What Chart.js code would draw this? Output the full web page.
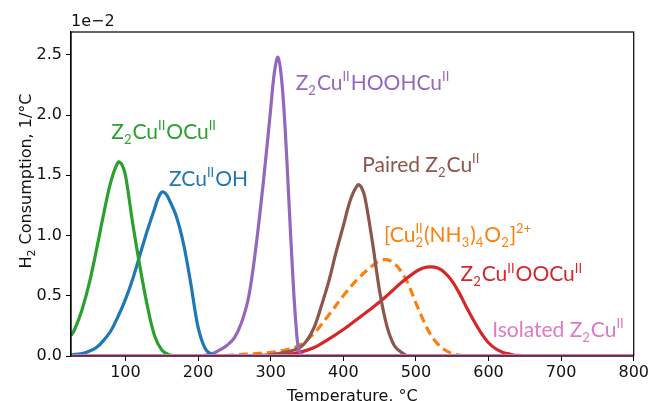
<!DOCTYPE html>
<html>
<head>
<meta charset="utf-8">
<script src="https://cdn.jsdelivr.net/npm/chart.js@4"></script>
<style>
  html, body { margin: 0; padding: 0; background: #fff; }
  #wrap { width: 651px; height: 401px; }
</style>
</head>
<body>
<div id="wrap"><canvas id="tprChart"></canvas></div>
<script>
// H2-TPR deconvolution, values in units of 1e-2 per °C (axis offset "1e−2")
const TEMP_MIN = 25;
const TEMP_MAX = 800;
const Y_MAX = 2.69;

// Z2CuIIOCuII
const greenTemps = [25, 30, 40, 50, 60, 70, 80, 90, 95, 100, 110, 120, 130, 140, 150, 160, 170, 800];
const greenValues = [0.17, 0.22, 0.38, 0.60, 0.88, 1.18, 1.45, 1.61, 1.59, 1.50, 1.10, 0.74, 0.42, 0.17, 0.05, 0.01, 0, 0];

// ZCuIIOH
const blueTemps = [25, 40, 50, 60, 70, 80, 90, 100, 110, 120, 130, 140, 145, 150, 155, 160, 170, 180, 190, 200, 210, 220, 230, 800];
const blueValues = [0.01, 0.02, 0.04, 0.07, 0.13, 0.21, 0.33, 0.47, 0.64, 0.84, 1.04, 1.22, 1.31, 1.36, 1.35, 1.30, 1.16, 0.93, 0.60, 0.24, 0.06, 0.01, 0, 0];

// Z2CuIIHOOHCuII
const purpleTemps = [25, 200, 220, 230, 240, 250, 260, 270, 280, 290, 300, 305, 310, 315, 320, 325, 330, 335, 340, 350, 800];
const purpleValues = [0, 0, 0.02, 0.05, 0.09, 0.15, 0.28, 0.50, 0.92, 1.45, 2.05, 2.35, 2.48, 2.30, 1.88, 1.30, 0.72, 0.25, 0.03, 0, 0];

// Paired Z2CuII
const brownTemps = [25, 250, 280, 300, 320, 340, 350, 360, 370, 380, 390, 400, 410, 420, 425, 430, 440, 450, 460, 470, 480, 490, 800];
const brownValues = [0, 0, 0.005, 0.01, 0.03, 0.07, 0.13, 0.24, 0.42, 0.62, 0.86, 1.08, 1.30, 1.42, 1.40, 1.31, 0.95, 0.54, 0.25, 0.09, 0.03, 0, 0];

// [CuII2(NH3)4O2]2+
const orangeTemps = [25, 230, 250, 280, 300, 320, 340, 360, 380, 400, 420, 440, 450, 460, 470, 480, 490, 500, 510, 520, 530, 540, 550, 560, 570, 800];
const orangeValues = [0, 0, 0.01, 0.02, 0.03, 0.05, 0.09, 0.19, 0.34, 0.50, 0.64, 0.75, 0.79, 0.80, 0.77, 0.70, 0.59, 0.44, 0.30, 0.18, 0.10, 0.05, 0.02, 0.005, 0, 0];

// Z2CuIIOOCuII
const redTemps = [25, 300, 320, 340, 360, 380, 400, 420, 440, 460, 480, 500, 510, 520, 530, 540, 550, 560, 570, 580, 590, 600, 610, 620, 630, 640, 680, 800];
const redValues = [0, 0, 0.01, 0.03, 0.07, 0.14, 0.22, 0.31, 0.40, 0.50, 0.61, 0.70, 0.73, 0.74, 0.73, 0.69, 0.62, 0.52, 0.40, 0.29, 0.19, 0.11, 0.06, 0.03, 0.015, 0.005, 0, 0];

// Isolated Z2CuII
const pinkTemps = [25, 200, 400, 600, 800];
const pinkValues = [0.004, 0.004, 0.004, 0.004, 0.004];

// Curve labels: text with _{sub} / ^{sup}, anchored at (temperature, value)
const labelTexts = [
  'Z_{2}Cu^{II}OCu^{II}',
  'ZCu^{II}OH',
  'Z_{2}Cu^{II}HOOHCu^{II}',
  'Paired Z_{2}Cu^{II}',
  '[Cu^{II}_{2}(NH_{3})_{4}O_{2}]^{2+}',
  'Z_{2}Cu^{II}OOCu^{II}',
  'Isolated Z_{2}Cu^{II}'
];
const labelTemps = [80.5, 160, 334.5, 426, 456, 561.5, 605];
const labelValues = [1.80, 1.41, 2.21, 1.53, 0.95, 0.62, 0.16];
const labelColors = ['#2ca02c', '#1f77b4', '#9467bd', '#8c564b', '#ff7f0e', '#d62728', '#e377c2'];

function toPoints(temps, values) {
    return temps.map((t, i) => ({ x: t, y: values[i] }));
}

function makeSet(label, temps, values, color, dash) {
    return {
        label: label,
        data: toPoints(temps, values),
        borderColor: color,
        backgroundColor: color,
        borderWidth: 3.2,
        borderDash: dash || [],
        pointRadius: 0,
        fill: false,
        tension: 0.35
    };
}

// Split "Z_{2}Cu^{II}" into runs
function parseRich(str) {
    const parts = str.split(/(\^\{[^}]*\}|_\{[^}]*\})/).filter(s => s.length);
    return parts.map(p => {
        if (p.startsWith('^{')) return { t: p.slice(2, -1), k: 'sup' };
        if (p.startsWith('_{')) return { t: p.slice(2, -1), k: 'sub' };
        return { t: p, k: 'n' };
    });
}

function drawRich(ctx, str, x, y, size, color) {
    const runs = parseRich(str);
    const small = Math.round(size * 0.62);
    ctx.fillStyle = color;
    ctx.textBaseline = 'alphabetic';
    ctx.textAlign = 'left';
    let cx = x;
    for (let i = 0; i < runs.length; i++) {
        const r = runs[i];
        if (r.k === 'n') {
            ctx.font = size + 'px Lato';
            ctx.fillText(r.t, cx, y);
            cx += ctx.measureText(r.t).width;
        } else {
            ctx.font = small + 'px Lato';
            const dy = r.k === 'sup' ? -size * 0.42 : size * 0.24;
            ctx.fillText(r.t, cx, y + dy);
            let w = ctx.measureText(r.t).width;
            // stacked sup + sub
            const nx = runs[i + 1];
            if (r.k === 'sup' && nx && nx.k === 'sub') {
                ctx.fillText(nx.t, cx, y + size * 0.24);
                w = Math.max(w, ctx.measureText(nx.t).width);
                i++;
            }
            cx += w + 1;
        }
    }
}

const decorPlugin = {
    id: 'decor',
    afterDatasetsDraw(chart) {
        const ctx = chart.ctx;
        const xs = chart.scales.x;
        const ys = chart.scales.y;
        const a = chart.chartArea;
        ctx.save();

        // curve labels
        labelTexts.forEach((txt, i) => {
            drawRich(ctx, txt, xs.getPixelForValue(labelTemps[i]), ys.getPixelForValue(labelValues[i]), 21, labelColors[i]);
        });

        // frame
        ctx.strokeStyle = '#000';
        ctx.lineWidth = 1.2;
        ctx.strokeRect(a.left, a.top, a.right - a.left, a.bottom - a.top);

        // offset text
        ctx.fillStyle = '#111';
        ctx.font = '16px "DejaVu Sans"';
        ctx.textAlign = 'left';
        ctx.textBaseline = 'alphabetic';
        ctx.fillText('1e\u22122', a.left, 26);

        // x title (cut by the bottom edge, as in the source)
        ctx.textAlign = 'center';
        ctx.fillText('Temperature, \u00B0C', (a.left + a.right) / 2, 401);

        // y title (rotated, with H2 subscript)
        ctx.translate(31, 181);
        ctx.rotate(-Math.PI / 2);
        const main = ' Consumption, 1/\u00B0C';
        ctx.font = '16px "DejaVu Sans"';
        const wH = ctx.measureText('H').width;
        const wM = ctx.measureText(main).width;
        ctx.font = '11px "DejaVu Sans"';
        const w2 = ctx.measureText('2').width;
        const start = -(wH + w2 + wM) / 2;
        ctx.textAlign = 'left';
        ctx.font = '16px "DejaVu Sans"';
        ctx.fillText('H', start, 0);
        ctx.font = '11px "DejaVu Sans"';
        ctx.fillText('2', start + wH, 4);
        ctx.font = '16px "DejaVu Sans"';
        ctx.fillText(main, start + wH + w2, 0);
        ctx.restore();
    }
};

function initChart() {
    const ctx = document.getElementById('tprChart').getContext('2d');
    new Chart(ctx, {
        type: 'line',
        data: {
            datasets: [
                makeSet('Isolated Z2CuII', pinkTemps, pinkValues, '#e377c2'),
                makeSet('Z2CuIIOCuII', greenTemps, greenValues, '#2ca02c'),
                makeSet('ZCuIIOH', blueTemps, blueValues, '#1f77b4'),
                makeSet('Z2CuIIHOOHCuII', purpleTemps, purpleValues, '#9467bd'),
                makeSet('Paired Z2CuII', brownTemps, brownValues, '#8c564b'),
                makeSet('Z2CuIIOOCuII', redTemps, redValues, '#d62728'),
                makeSet('[CuII2(NH3)4O2]2+', orangeTemps, orangeValues, '#ff7f0e', [9, 5])
            ]
        },
        options: {
            responsive: true,
            maintainAspectRatio: false,
            animation: false,
            layout: { padding: { top: 32, right: 16, left: 0, bottom: 0 } },
            scales: {
                x: {
                    type: 'linear',
                    min: TEMP_MIN,
                    max: TEMP_MAX,
                    afterFit: (s) => { s.height = 45; },
                    grid: { drawOnChartArea: false, drawTicks: true, tickLength: 5, color: '#000', lineWidth: 1 },
                    border: { display: true, color: '#000', width: 1.2 },
                    ticks: {
                        stepSize: 100,
                        includeBounds: false,
                        autoSkip: false,
                        maxRotation: 0,
                        padding: 2,
                        color: '#111',
                        font: { family: 'DejaVu Sans', size: 16 }
                    }
                },
                y: {
                    type: 'linear',
                    min: 0,
                    max: Y_MAX,
                    afterFit: (s) => { s.width = 71; },
                    grid: { drawOnChartArea: false, drawTicks: true, tickLength: 5, color: '#000', lineWidth: 1 },
                    border: { display: true, color: '#000', width: 1.2 },
                    ticks: {
                        stepSize: 0.5,
                        includeBounds: false,
                        padding: 4,
                        color: '#111',
                        font: { family: 'DejaVu Sans', size: 16 },
                        callback: (v) => v.toFixed(1)
                    }
                }
            },
            plugins: {
                legend: { display: false },
                tooltip: { enabled: false }
            }
        },
        plugins: [decorPlugin]
    });
}

window.addEventListener('load', initChart);
</script>
</body>
</html>
